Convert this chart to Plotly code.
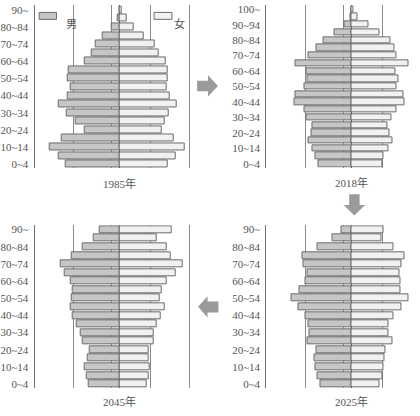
import plotly.graph_objects as go

W, H = 420, 416

ages19 = ["0~4", "5~9", "10~14", "15~19", "20~24", "25~29", "30~34", "35~39",
          "40~44", "45~49", "50~54", "55~59", "60~64", "65~69", "70~74",
          "75~79", "80~84", "85~89", "90~"]
ages21 = ages19[:-1] + ["90~94", "95~99", "100~"]

# bar lengths (arbitrary units), from youngest to oldest
male_1985 = [164, 186, 213, 176, 107, 133, 160, 186, 157, 150, 157, 155, 107, 84, 72, 52, 25, 7, 2]
female_1985 = [146, 168, 195, 162, 128, 135, 148, 172, 152, 142, 144, 146, 138, 118, 105, 72, 42, 22, 7]

male_2018 = [101, 110, 119, 132, 121, 120, 136, 143, 173, 171, 143, 134, 137, 171, 130, 106, 86, 53, 21, 3, 2]
female_2018 = [92, 97, 110, 125, 115, 107, 122, 135, 160, 156, 137, 141, 133, 172, 137, 129, 117, 85, 50, 17, 5]

male_2025 = [95, 104, 110, 113, 108, 135, 129, 131, 139, 160, 183, 158, 140, 134, 145, 150, 103, 57, 31]
female_2025 = [85, 94, 97, 99, 103, 125, 110, 112, 127, 150, 172, 148, 147, 144, 150, 160, 127, 91, 95]

male_2045 = [95, 102, 106, 99, 90, 114, 118, 130, 142, 150, 145, 142, 150, 167, 178, 147, 114, 78, 61]
female_2045 = [82, 86, 90, 88, 86, 103, 103, 112, 125, 137, 122, 128, 143, 170, 190, 155, 142, 112, 158]

years = ["1985年", "2018年", "2045年", "2025年"]
legend_labels = ["男", "女"]
grid_vals = [-141, -24, 93, 210]

MALE_FILL = "#c6c6c6"
FEMALE_FILL = "#f1f1f1"
EDGE = "#6b6b6b"
TXT = "#555555"
FONT = "Liberation Serif, Noto Sans CJK JP, serif"


def px(x):
    return x / W


def py(y):
    return 1 - y / H


panels = [
    # (suffix, ages, male, female, x px domain, y px domain, x range, title xy)
    ("", ages19, male_1985, female_1985, (31, 200), (3.5, 168), (-258, 249), (116.5, 183)),
    ("2", ages21, male_2018, female_2018, (265, 420), (3.4, 167.2), (-258, 207), (351, 182)),
    ("3", ages19, male_2045, female_2045, (31, 200), (225.5, 390), (-258, 249), (116.5, 403)),
    ("4", ages19, male_2025, female_2025, (265, 420), (225.5, 390), (-258, 207), (351, 403)),
]

fig = go.Figure()
annotations = []
for (sfx, ages, male, female, xd, yd, xr, tpos), year in zip(panels, years):
    n = len(ages)
    ypos = list(range(n))
    fig.add_trace(go.Bar(
        y=ypos, x=[-v for v in male], orientation="h", width=0.82,
        marker=dict(color=MALE_FILL, line=dict(color=EDGE, width=1)),
        xaxis="x" + sfx, yaxis="y" + sfx, showlegend=False, hoverinfo="skip"))
    fig.add_trace(go.Bar(
        y=ypos, x=female, orientation="h", width=0.82,
        marker=dict(color=FEMALE_FILL, line=dict(color=EDGE, width=1)),
        xaxis="x" + sfx, yaxis="y" + sfx, showlegend=False, hoverinfo="skip"))
    fig.layout["xaxis" + sfx] = dict(
        domain=[px(xd[0]), px(xd[1])], range=list(xr), anchor="y" + sfx,
        showgrid=True, gridcolor="#8a8a8a", gridwidth=1,
        tickmode="array", tickvals=grid_vals, showticklabels=False, ticks="",
        zeroline=True, zerolinecolor="#454545", zerolinewidth=1.3,
        showline=False, fixedrange=True)
    fig.layout["yaxis" + sfx] = dict(
        domain=[py(yd[1]), py(yd[0])], range=[-0.5, n - 0.5], anchor="x" + sfx,
        showgrid=False, zeroline=False, showline=True, linecolor="#707070",
        linewidth=1.3, tickmode="array", tickvals=ypos[::2], ticktext=ages[::2],
        ticks="", ticklabelstandoff=3,
        tickfont=dict(family=FONT, size=11, color=TXT), fixedrange=True)
    annotations.append(dict(
        text=year, x=px(tpos[0]), y=py(tpos[1]), xref="paper", yref="paper",
        showarrow=False, xanchor="center", yanchor="middle",
        font=dict(family=FONT, size=11, color=TXT)))

# legend
shapes = [
    dict(type="rect", xref="paper", yref="paper", x0=px(35.5), x1=px(53), y0=py(17.5), y1=py(10.5),
         fillcolor=MALE_FILL, line=dict(color=EDGE, width=1)),
    dict(type="rect", xref="paper", yref="paper", x0=px(151.5), x1=px(169.5), y0=py(17.5), y1=py(10.5),
         fillcolor=FEMALE_FILL, line=dict(color=EDGE, width=1)),
]
annotations.append(dict(text=legend_labels[0], x=px(61), y=py(14), xref="paper", yref="paper",
                        showarrow=False, font=dict(family=FONT, size=11, color=TXT)))
annotations.append(dict(text=legend_labels[1], x=px(177), y=py(14), xref="paper", yref="paper",
                        showarrow=False, font=dict(family=FONT, size=11, color=TXT)))


def arrow_path(pts):
    return "M" + " L".join(f"{px(x):.5f},{py(y):.5f}" for x, y in pts) + " Z"


ARROW = "#9a9a9a"
right_arrow = [(195, 79.5), (206, 79.5), (206, 74), (216, 84.7), (206, 95.5), (206, 90), (195, 90)]
left_arrow = [(216.5, 302.5), (205.5, 302.5), (205.5, 297), (196, 307.7), (205.5, 318.5), (205.5, 313.5), (216.5, 313.5)]
down_arrow = [(348.5, 194), (359, 194), (359, 205), (364.5, 205), (353.7, 215.5), (343, 205), (348.5, 205)]
for pts in (right_arrow, left_arrow, down_arrow):
    shapes.append(dict(type="path", xref="paper", yref="paper", path=arrow_path(pts),
                       fillcolor=ARROW, line=dict(width=0)))

fig.update_layout(
    width=W, height=H, margin=dict(l=0, r=0, t=0, b=0),
    paper_bgcolor="white", plot_bgcolor="white",
    barmode="overlay", bargap=0, shapes=shapes, annotations=annotations,
)

fig.write_html("out.html")
